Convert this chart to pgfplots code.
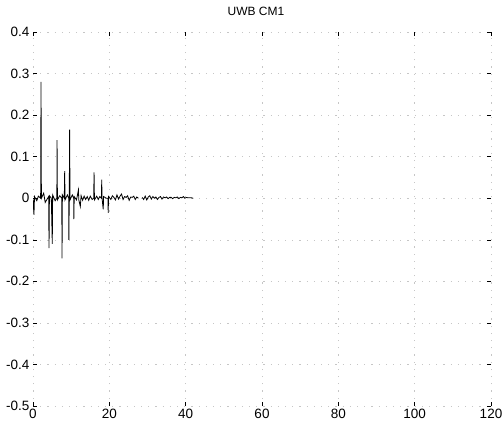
\documentclass[border=0pt]{standalone}
\usepackage{pgfplots}
\pgfplotsset{compat=1.18}
\usepackage{fontspec}
\setmainfont{Liberation Sans}

% Channel impulse response, IEEE 802.15.3a channel model CM1
\pgfplotstableread{
t h
0.0 0.0
0.25 -0.04
0.4 0.004
1.0 -0.006
1.4 0.005
2.0 0.0
2.1 0.28
2.2 0.0
2.8 0.012
3.2 -0.01
4.1 0.004
4.2 -0.12
4.3 0.006
4.8 0.0
5.05 -0.11
5.15 0.008
5.8 -0.006
6.25 0.0
6.3 0.14
6.4 -0.004
7.0 0.006
7.55 0.0
7.6 -0.145
7.7 0.008
8.2 0.0
8.3 0.065
8.4 -0.004
9.0 0.008
9.35 0.0
9.4 -0.10
9.5 0.0
9.6 0.165
9.7 -0.004
10.3 0.008
10.65 0.0
10.7 -0.05
10.8 0.004
11.4 -0.004
11.9 0.02
12.0 -0.004
12.4 -0.02
12.6 0.006
13.0 -0.005
13.4 0.005
13.8 -0.003
14.2 0.004
14.6 -0.005
15.0 0.005
15.5 -0.003
15.9 0.0
16.0 0.062
16.1 -0.004
16.7 0.005
17.1 -0.003
17.5 0.004
17.95 0.0
18.0 0.045
18.1 0.0
18.4 -0.027
18.5 0.004
19.2 0.0
19.65 0.0
19.7 -0.035
19.8 0.004
20.4 -0.003
20.8 0.006
21.2 0.002
21.6 -0.004
22.0 0.008
22.4 -0.002
22.8 0.005
23.2 0.01
23.6 -0.003
24.0 0.004
24.4 0.002
24.8 0.006
25.2 -0.005
25.6 0.003
26.0 0.002
26.4 0.005
26.8 -0.003
27.2 0.003
27.6 0.0
28.1 nan
28.6 0.002
29.0 -0.003
29.4 0.005
29.8 -0.004
30.2 0.003
30.6 0.006
31.0 -0.002
31.4 0.004
31.8 0.0
32.2 0.003
32.6 -0.003
33.0 0.002
33.4 0.004
33.8 -0.002
34.2 0.003
34.6 0.001
35.0 0.003
35.4 -0.001
35.8 0.002
36.2 0.002
36.6 -0.001
37.0 0.002
37.4 0.001
37.8 0.003
38.2 -0.001
38.6 0.002
39.0 0.001
39.4 0.004
39.8 0.0
40.2 0.002
40.6 0.001
41.0 0.001
41.5 0.001
42.0 0.0
}\cmone

\begin{document}
\begin{tikzpicture}
\useasboundingbox (-33bp,-24bp) rectangle (471bp,406bp);
\begin{axis}[
  scale only axis,
  width=458bp, height=374bp,
  xmin=0, xmax=120, ymin=-0.5, ymax=0.4,
  xtick={0,20,...,120},
  ytick={-0.5,-0.4,...,0.4},
  yticklabel style={/pgf/number format/fixed, /pgf/number format/precision=1},
  /pgf/number format/assume math mode=true,
  tick label style={font=\fontsize{13.5bp}{15bp}\selectfont},
  title={UWB CM1},
  title style={font=\fontsize{12bp}{14bp}\selectfont, at={(0.5,1)}, anchor=south, xshift=-6bp, yshift=7bp},
  axis line style={draw=none},
  tick align=inside,
  major tick length=4bp,
  tick style={black, line width=0.5bp},
  grid=major,
  major grid style={gray!45, line width=0.4bp, dash pattern=on 1.2bp off 6bp},
  unbounded coords=jump,
]
\addplot[black, line width=0.8bp] table[x=t, y=h] {\cmone};
\end{axis}
\end{tikzpicture}
\end{document}
